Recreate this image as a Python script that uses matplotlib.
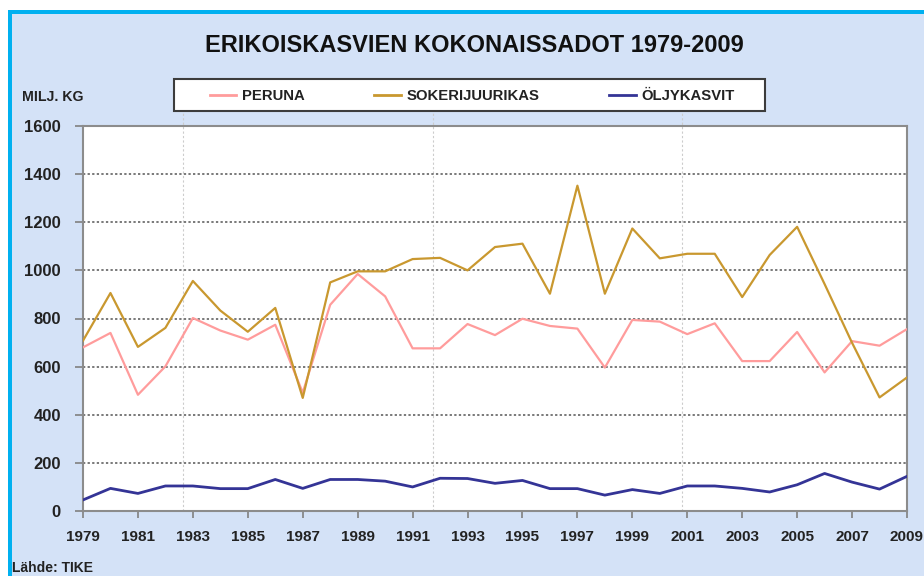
"""Erikoiskasvien kokonaissadot 1979-2009 (Finnish special crops harvest)."""

import matplotlib
matplotlib.use("Agg")
import matplotlib.pyplot as plt
from matplotlib.patches import Rectangle
from matplotlib.lines import Line2D

plt.rcParams["font.family"] = ["Liberation Sans", "DejaVu Sans"]
plt.rcParams["font.weight"] = "bold"

years = list(range(1979, 2010))

peruna = [680, 740, 483, 601, 802, 750, 712, 774, 492, 857, 985, 892, 676, 676,
          777, 731, 799, 769, 758, 596, 794, 787, 735, 780, 623, 623, 744, 576,
          706, 687, 756]
sokerijuurikas = [708, 906, 682, 761, 956, 833, 745, 844, 470, 950, 996, 996,
                  1047, 1052, 1000, 1097, 1111, 903, 1352, 903, 1174, 1050, 1069,
                  1069, 889, 1064, 1181, 943, 699, 472, 555]
oljykasvit = [46, 94, 73, 104, 104, 93, 93, 131, 94, 131, 131, 124, 100, 136,
              135, 115, 127, 93, 93, 66, 89, 73, 104, 104, 94, 79, 109, 156, 120,
              91, 144]

series_names = ["PERUNA", "SOKERIJUURIKAS", "ÖLJYKASVIT"]
series_colors = ["#ff9c9c", "#c9982f", "#343496"]

x_ticks = list(range(1979, 2010, 2))
y_ticks = list(range(0, 1601, 200))

W, H = 924, 576
BG = "#d4e2f7"
CYAN = "#00b0f0"


def fx(px):
    return px / W


def fy(py):
    return 1 - py / H


fig = plt.figure(figsize=(W / 100, H / 100), dpi=100, facecolor="white")

# blue panel with cyan border on top and left
fig.patches.append(Rectangle((fx(8), 0), 1 - fx(8), fy(10), transform=fig.transFigure,
                             facecolor=CYAN, edgecolor="none", zorder=-3))
fig.patches.append(Rectangle((fx(12), 0), 1 - fx(12), fy(14), transform=fig.transFigure,
                             facecolor=BG, edgecolor="none", zorder=-2))

ax = fig.add_axes([fx(83), fy(511), fx(907) - fx(83), fy(126) - fy(511)])
ax.set_facecolor("white")

for vals, name, col in zip([peruna, sokerijuurikas, oljykasvit], series_names, series_colors):
    lw = 2.0 if name == "ÖLJYKASVIT" else 1.6
    ax.plot(years, vals, color=col, linewidth=lw, label=name, zorder=3)

ax.set_xlim(1979, 2009)
ax.set_ylim(0, 1600)
ax.set_xticks(x_ticks)
ax.set_yticks(y_ticks)
ax.tick_params(axis="both", colors="#808080", labelcolor="#222222",
               direction="out", width=1.2)
ax.tick_params(axis="y", length=6, pad=10, labelsize=12)
ax.tick_params(axis="x", length=5, pad=9, labelsize=11)

for y in y_ticks[1:-1]:
    ax.axhline(y, color="#555555", linewidth=1.1, linestyle=(0, (1.5, 1.5)), zorder=1)

# faint vertical guides
for xv in [1982.65, 1991.75, 2000.8]:
    ax.axvline(xv, ymin=0, ymax=1.04, color="#cccccc", linewidth=0.8,
               linestyle=(0, (2, 2)), zorder=0, clip_on=False)

for sp in ax.spines.values():
    sp.set_color("#8c8c8c")
    sp.set_linewidth(1.5)

fig.text(fx(474), fy(45), "ERIKOISKASVIEN KOKONAISSADOT 1979-2009", ha="center",
         va="center", fontsize=17, fontweight="bold", color="#111111")
fig.text(fx(22), fy(97), "MILJ. KG", ha="left", va="center", fontsize=10.2,
         fontweight="bold", color="#222222")
fig.text(fx(12), fy(568), "Lähde: TIKE", ha="left", va="center", fontsize=10,
         fontweight="bold", color="#222222")

# legend box
fig.patches.append(Rectangle((fx(174), fy(111)), fx(765) - fx(174), fy(79) - fy(111),
                             transform=fig.transFigure, facecolor="white",
                             edgecolor="#3c3c3c", linewidth=1.5, zorder=1))
handles = [Line2D([0], [0], color=c, linewidth=2) for c in series_colors]
leg = fig.legend(handles, series_names, loc="center", bbox_to_anchor=(fx(472), fy(96)),
                 ncol=3, frameon=False, fontsize=10.7, handlelength=1.8,
                 handletextpad=0.35, columnspacing=4.7)
for t in leg.get_texts():
    t.set_color("#222222")

fig.savefig("out.png", dpi=100, facecolor=fig.get_facecolor())
